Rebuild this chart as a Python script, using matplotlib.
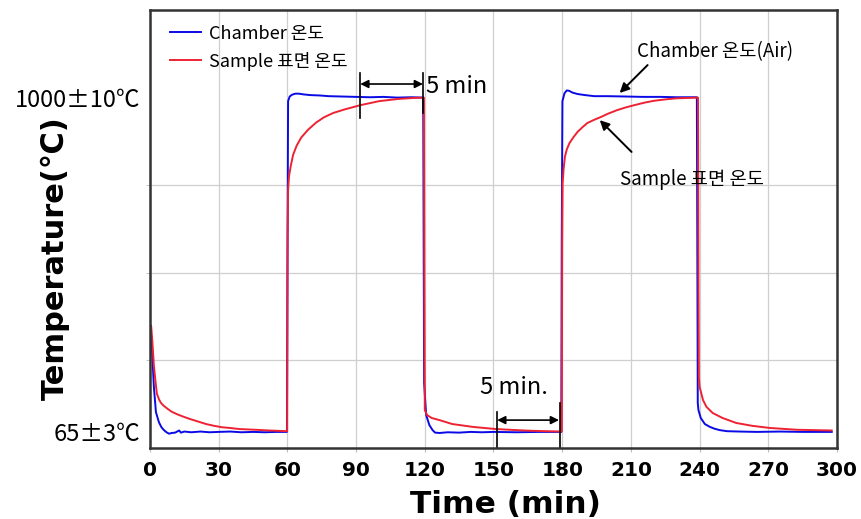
import matplotlib
matplotlib.use("Agg")
import matplotlib.pyplot as plt

plt.rcParams['font.family'] = ['Noto Sans CJK KR', 'DejaVu Sans']

# values (time in min, temperature in degC)
chamber_time = [0, 0.5, 1.0, 1.7, 2.6, 3.9, 5.0, 6.1, 7.2, 8.3, 9.5, 11, 12.7, 13.5, 15, 18, 22, 26, 30, 35, 40, 45, 50, 55, 59.8,
                60.0, 60.3, 61, 62, 63.5, 65, 67, 70, 74, 78, 84, 90, 96, 102, 108, 114, 119.3,
                119.5, 119.7, 120.6, 122, 123.4, 124.5, 126.4, 130, 135, 140, 145, 150, 160, 170, 179.6,
                179.8, 180.1, 181, 182, 183, 184.5, 186.7, 190, 194, 200, 208, 215, 223, 230, 238.8,
                239.0, 239.2, 239.5, 240.5, 242.3, 244.5, 246.5, 248.8, 252, 257.5, 265, 275, 285, 297.7]
chamber_temp = [360, 330, 280, 190, 120, 92, 78, 70, 64, 60, 62, 63, 69, 63, 66, 64, 66, 64, 65, 66, 64, 65, 64, 65, 65,
                500, 990, 1003, 1008, 1011, 1011, 1009, 1007, 1006, 1004, 1003, 1002, 1001, 1002, 1000, 1001, 1000,
                600, 202, 112, 84, 70, 63, 62, 64, 63, 65, 64, 65, 64, 65, 65,
                600, 990, 1012, 1020, 1019, 1014, 1010, 1007, 1004, 1004, 1003, 1002, 1002, 1001, 1001,
                600, 146, 126, 104, 87, 79, 74, 70, 67, 66, 65, 66, 65, 65]

sample_time = [0, 0.5, 1, 1.7, 2.5, 3, 4, 4.8, 6, 8, 9.6, 12, 14, 17, 20, 24.5, 28, 31.5, 35, 39, 46, 52, 59.9,
               60.1, 60.3, 60.7, 61.5, 62.5, 64, 66, 69, 72.5, 76, 80, 85, 92, 100, 108, 115, 119.6,
               119.8, 120, 121, 123, 126.4, 132, 141, 151, 160, 167, 179.8,
               180, 180.2, 180.6, 181.2, 182, 183.2, 185, 186.7, 189, 191, 194, 197, 200, 204, 208, 211.6, 216, 220, 225, 230, 235, 239.3,
               239.5, 239.7, 240, 241.5, 243, 245.7, 250, 256, 263, 270.7, 282.5, 297.7]
sample_temp = [365, 362, 320, 250, 200, 172, 155, 146, 138, 128, 121, 114, 109, 102, 96, 87, 82, 78, 76, 73, 71, 69, 67,
               600, 740, 780, 810, 840, 865, 888, 910, 930, 945, 957, 967, 979, 990, 996, 999, 1000,
               500, 126, 112, 104, 98, 87, 79, 73, 70, 68, 66,
               600, 760, 800, 835, 855, 873, 890, 904, 918, 929, 938, 946, 955, 965, 973, 979, 986, 991, 995, 998, 999, 1000,
               500, 216, 191, 154, 135, 118, 104, 90, 82, 76, 71, 69]

x_ticks = [0, 30, 60, 90, 120, 150, 180, 210, 240, 270, 300]
y_label_vals = [65, 1000]
y_label_text = ['65±3℃', '1000±10℃']
y_grid_vals = [265, 510, 755, 1000]

fig = plt.figure(figsize=(8.62, 5.19), dpi=100)
ax = fig.add_axes([150 / 862, 71 / 519, 687 / 862, 438 / 519])

ax.plot(chamber_time, chamber_temp, color='#0a0ae6', lw=1.4, label='Chamber 온도')
ax.plot(sample_time, sample_temp, color='#ee2233', lw=1.4, label='Sample 표면 온도')

ax.set_xlim(0, 300)
ax.set_ylim(20, 1245)

ax.set_xticks(x_ticks)
ax.set_xticklabels([str(v) for v in x_ticks], family=['DejaVu Sans'], fontweight='bold', fontsize=14.5)
ax.tick_params(axis='x', length=3, color='#bbbbbb', pad=6)
ax.grid(axis='x', color='#cfcfcf', lw=0.9)

ax.set_yticks(y_label_vals)
ax.set_yticklabels(y_label_text, fontsize=17)
ax.set_yticks(y_grid_vals, minor=True)
ax.tick_params(axis='y', which='major', length=0, pad=7)
ax.tick_params(axis='y', which='minor', length=3, color='#bbbbbb')
ax.grid(axis='y', which='minor', color='#cfcfcf', lw=0.9)

for spine in ax.spines.values():
    spine.set_color('#333333')
    spine.set_linewidth(1.8)

ax.set_xlabel('Time (min)', family=['DejaVu Sans'], fontweight='bold', fontsize=22.5)
ax.xaxis.set_label_coords(0.517, -0.097)
ax.set_ylabel('Temperature(℃)', family=['DejaVu Sans', 'Noto Sans CJK KR'], fontweight='bold', fontsize=22)
ax.yaxis.set_label_coords(-0.116, 0.433)

ax.legend(loc='upper left', bbox_to_anchor=(0.0, 1.012), frameon=False, fontsize=13,
          handlelength=1.7, handletextpad=0.45, labelspacing=0.5, borderaxespad=0.7)

# 5 min markers
ax.plot([91.8, 91.8], [943, 1069], color='black', lw=1.2)
ax.plot([119.2, 119.2], [957, 1069], color='black', lw=1.2)
ax.annotate('', xy=(119.2, 1038), xytext=(91.8, 1038),
            arrowprops=dict(arrowstyle='<|-|>', color='black', lw=1.2, mutation_scale=12, shrinkA=0, shrinkB=0))
ax.text(120.5, 1032, '5 min', fontsize=17, va='center', ha='left')

ax.plot([151.4, 151.4], [20, 121], color='black', lw=1.2)
ax.plot([179.0, 179.0], [20, 146], color='black', lw=1.2)
ax.annotate('', xy=(178.6, 98), xytext=(151.6, 98),
            arrowprops=dict(arrowstyle='<|-|>', color='black', lw=1.2, mutation_scale=12, shrinkA=0, shrinkB=0))
ax.text(144.0, 188, '5 min.', fontsize=17, va='center', ha='left')

# curve callouts
ax.annotate('', xy=(205.1, 1013), xytext=(217.3, 1091),
            arrowprops=dict(arrowstyle='-|>', color='black', lw=1.4, mutation_scale=14, shrinkA=0, shrinkB=0))
ax.text(212.5, 1128, 'Chamber 온도(Air)', fontsize=13.5, ha='left', va='center')
ax.annotate('', xy=(196.4, 937), xytext=(210.3, 848),
            arrowprops=dict(arrowstyle='-|>', color='black', lw=1.4, mutation_scale=14, shrinkA=0, shrinkB=0))
ax.text(205.1, 770, 'Sample 표면 온도', fontsize=13.5, ha='left', va='center')

fig.savefig('out.png', dpi=100)
